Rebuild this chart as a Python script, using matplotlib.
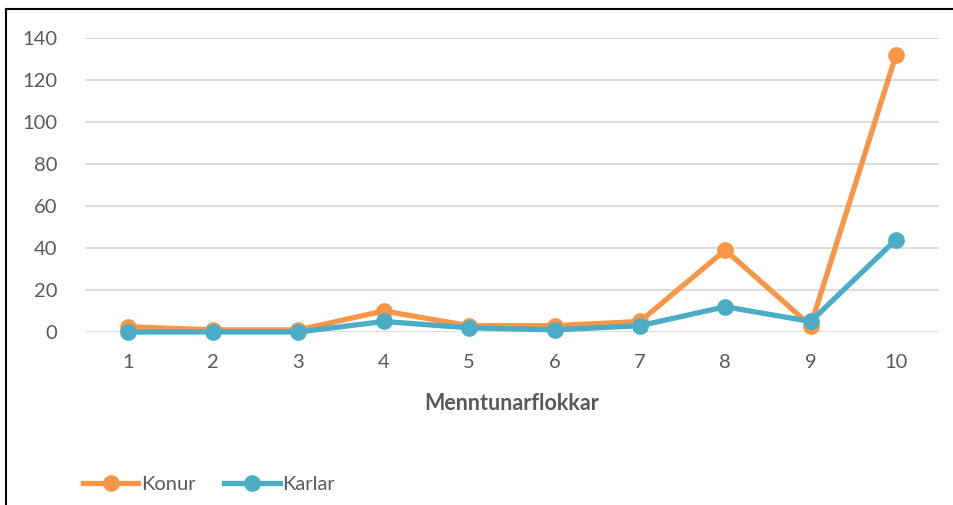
import matplotlib
matplotlib.use("Agg")
import matplotlib.pyplot as plt
from matplotlib.lines import Line2D

plt.rcParams['font.family'] = ['Lato', 'DejaVu Sans']

flokkar = [1, 2, 3, 4, 5, 6, 7, 8, 9, 10]
konur = [2.5, 1, 1, 10, 3, 3, 5, 39, 3, 132]
karlar = [0, 0, 0, 5, 2, 1, 3, 12, 5, 44]

orange = '#F79646'
blue = '#4BACC6'
grey = '#595959'

fig = plt.figure(figsize=(9.54, 5.05), dpi=100)
ax = fig.add_axes([0.0891, 0.3426, 0.8949, 0.5822])

ax.plot(flokkar, konur, color=orange, lw=3.8, marker='o', ms=11, label='Konur',
        zorder=3, clip_on=False)
ax.plot(flokkar, karlar, color=blue, lw=3.8, marker='o', ms=11, label='Karlar',
        zorder=4, clip_on=False)

ax.set_xlim(0.5, 10.5)
ax.set_ylim(0, 140)
ax.set_yticks(range(0, 141, 20))
ax.set_xticks(flokkar)
ax.grid(axis='y', color='#D9D9D9', lw=1.3)
ax.set_axisbelow(True)
for s in ax.spines.values():
    s.set_visible(False)
ax.tick_params(length=0, labelsize=14.5, colors=grey)
ax.tick_params(axis='x', pad=16)
ax.tick_params(axis='y', pad=20)
ax.set_xlabel('Menntunarflokkar', fontsize=15.5, fontweight='bold', color=grey, labelpad=16)

leg = fig.legend(loc='lower left', bbox_to_anchor=(0.068, -0.012), ncol=2, frameon=False,
                 fontsize=14.5, labelcolor=grey, handlelength=2.75, handletextpad=0.15,
                 columnspacing=1.4)

# outer frame (partly clipped like the source screenshot)
fig.add_artist(Line2D([0.006, 0.006], [0, 0.982], color='black', lw=1.5, transform=fig.transFigure))
fig.add_artist(Line2D([0.006, 1.0], [0.982, 0.982], color='black', lw=1.5, transform=fig.transFigure))

fig.savefig('out.png', dpi=100)
